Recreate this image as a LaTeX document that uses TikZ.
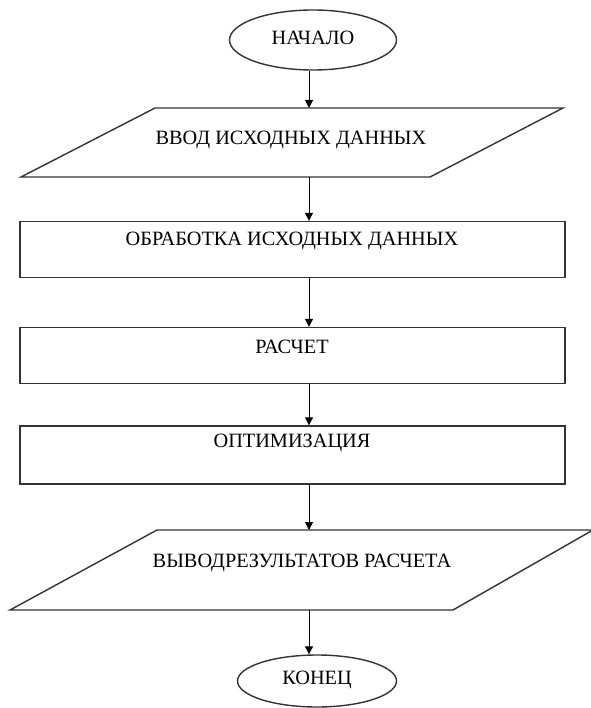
\documentclass[tikz,border=0pt]{standalone}
\usepackage{fontspec}
\setmainfont{Liberation Serif}
\usetikzlibrary{shapes.geometric,arrows.meta}
\begin{document}
\begin{tikzpicture}[x=1pt,y=-1pt,
  line/.style={draw=black!80,line width=1.4pt},
  arr/.style={draw=black,line width=1pt,-{Triangle[length=8pt,width=8pt]}},
  txt/.style={font=\fontsize{20.3}{22}\selectfont,inner sep=0pt},
  box/.style={line,rectangle,minimum width=545pt,minimum height=56pt,inner sep=0pt},
  oval/.style={line,ellipse,inner sep=0pt}]
\useasboundingbox (0,0) rectangle (590,708);
% start
\node[oval,minimum width=167pt,minimum height=60pt] (start) at (313,40) {};
\node[txt] (tstart) at (313,38) {НАЧАЛО};
% input
\draw[line] (155,108) -- (563,108) -- (430,177) -- (21,177) -- cycle;
\coordinate (p1t) at (309,108);
\coordinate (p1b) at (309,177);
\node[txt] (tp1) at (291,140) {ВВОД ИСХОДНЫХ ДАННЫХ};
% boxes
\node[box] (r1) at (292.5,249.5) {};
\node[txt] (tr1) at (292,241) {ОБРАБОТКА ИСХОДНЫХ ДАННЫХ};
\node[box] (r2) at (292.5,355.5) {};
\node[txt] (tr2) at (292,347) {РАСЧЕТ};
\node[box,minimum height=58pt] (r3) at (292.5,455) {};
\node[txt] (tr3) at (292,443) {ОПТИМИЗАЦИЯ};
% output
\draw[line] (157,530) -- (593,530) -- (453,610) -- (10,610) -- cycle;
\coordinate (p2t) at (309,530);
\coordinate (p2b) at (309,610);
\node[txt] (tp2) at (302,563) {ВЫВОДРЕЗУЛЬТАТОВ РАСЧЕТА};
% end
\node[oval,minimum width=159pt,minimum height=52pt] (stop) at (317,681) {};
\node[txt] (tstop) at (317,680) {КОНЕЦ};
% connectors
\draw[arr] ([xshift=-4pt]start.south) -- (p1t);
\draw[arr] (p1b) -- (p1b |- r1.north);
\draw[arr] (p1b |- r1.south) -- (p1b |- r2.north);
\draw[arr] (p1b |- r2.south) -- (p1b |- r3.north);
\draw[arr] (p1b |- r3.south) -- (p2t);
\draw[arr] (p2b) -- (p2b |- stop.north);
\end{tikzpicture}
\end{document}
